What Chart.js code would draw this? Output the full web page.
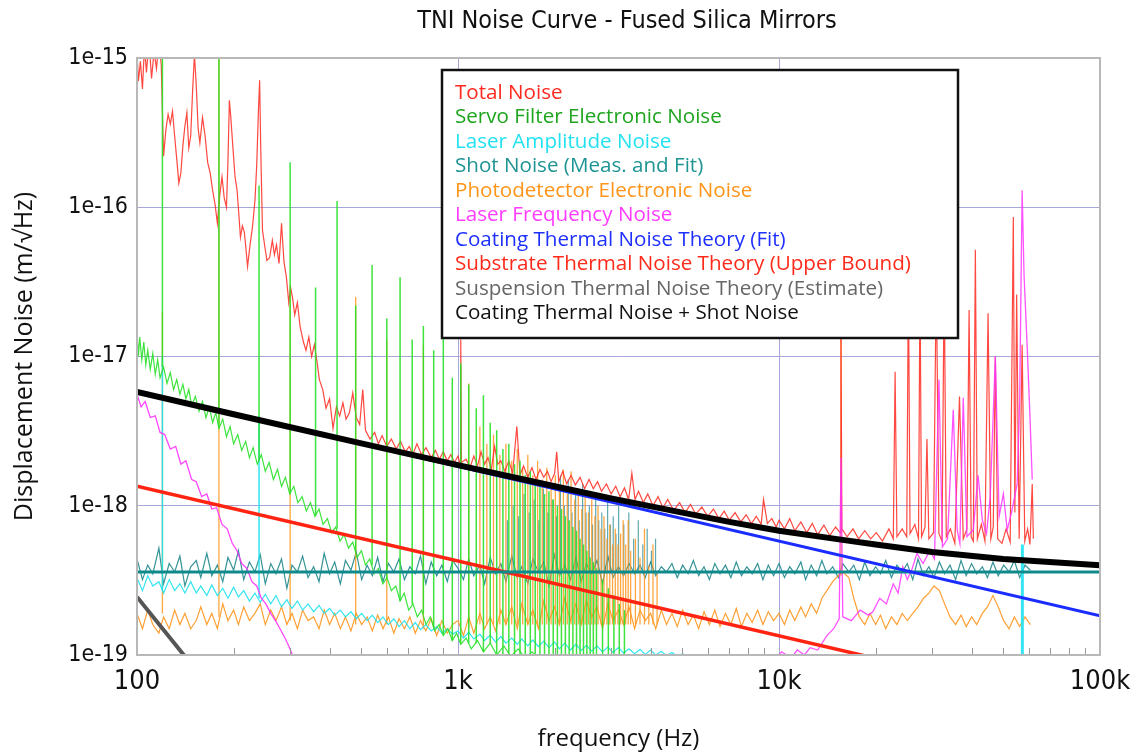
<!DOCTYPE html>
<html>
<head>
<meta charset="utf-8">
<script src="https://cdn.jsdelivr.net/npm/chart.js@4.4.1/dist/chart.umd.min.js"></script>
<style>
  html, body { margin: 0; padding: 0; background: #fff; }
  #wrap { width: 1132px; height: 754px; position: relative; }
</style>
</head>
<body>
<div id="wrap"><canvas id="chart"></canvas></div>
<script>
// axis ticks
const xTickValues = [100,200,300,400,500,600,700,800,900,1000,2000,3000,4000,5000,6000,7000,8000,9000,
  10000,20000,30000,40000,50000,60000,70000,80000,90000,100000]
const xMajorValues = [100, 1000, 10000, 100000]
const xMajorLabels = ['100', '1k', '10k', '100k']
const yTickValues = [1e-19, 1e-18, 1e-17, 1e-16, 1e-15]
const yTickLabels = ['1e-19', '1e-18', '1e-17', '1e-16', '1e-15']

// legend entries, top to bottom
const legendLabels = ['Total Noise', 'Servo Filter Electronic Noise', 'Laser Amplitude Noise',
  'Shot Noise (Meas. and Fit)', 'Photodetector Electronic Noise', 'Laser Frequency Noise',
  'Coating Thermal Noise Theory (Fit)', 'Substrate Thermal Noise Theory (Upper Bound)',
  'Suspension Thermal Noise Theory (Estimate)', 'Coating Thermal Noise + Shot Noise']
const legendColors = ['#ff2a1f', '#1ea51e', '#22e2f2', '#1e9494', '#ff9418', '#ff3cff',
  '#1e30ff', '#ff2a1a', '#666666', '#111111']

// theory curves [Hz, m/rtHz]
const coatingPlusShot = [[100,5.8e-18],[200,4.1e-18],[500,2.62e-18],[1000,1.87e-18],[2000,1.35e-18],
  [3000,1.12e-18],[5000,0.9e-18],[7000,0.78e-18],[10000,0.68e-18],[15000,0.6e-18],[20000,0.55e-18],
  [30000,0.49e-18],[50000,0.44e-18],[100000,0.4e-18]]
const coatingFit = [[100,5.8e-18],[100000,1.83e-19]]
const substrate = [[100,1.35e-18],[20000,0.95e-19]]
const suspension = [[100,2.45e-19],[150,0.83e-19]]
const shotFit = [[100,3.6e-19],[100000,3.6e-19]]

// measured total noise [Hz, m/rtHz]
const totalNoise = [[100,1.1e-15],[101,7.0e-16],[102.5,9.5e-16],[104,6.2e-16],[105.5,1.2e-15],[107,8.0e-16],
  [109,1.3e-15],[111,7.3e-16],[113,1.1e-15],[115,8.5e-16],[117,1.3e-15],[119,9.0e-16],[121,2.2e-16],
  [123,3.3e-16],[125,4.2e-16],[127,3.6e-16],[129,4.4e-16],[131,3.0e-16],[133,2.1e-16],[135,1.45e-16],
  [137,1.7e-16],[139,2.6e-16],[141,3.5e-16],[143,4.3e-16],[145,2.5e-16],[147,3.0e-16],[149,6.0e-16],
  [151,1.05e-15],[153,6.5e-16],[155,3.4e-16],[157,2.7e-16],[160,4.0e-16],[163,3.0e-16],[166,2.0e-16],
  [169,1.7e-16],[172,1.3e-16],[175,1.05e-16],[178,7.8e-17],[181,1.2e-16],[184,1.6e-16],[187,1.15e-16],
  [190,1.0e-16],[192,2.0e-16],[194,5.2e-16],[196,4.0e-16],[199,2.5e-16],[202,1.6e-16],[205,1.3e-16],
  [208,8.5e-17],[210,6.3e-17],[213,7.5e-17],[216,6.8e-17],[219,5.0e-17],[221,4.0e-17],[225,5.6e-17],
  [229,7.4e-17],[233,1.1e-16],[236,1.9e-16],[239,4.5e-16],[241,7.1e-16],[243,2.4e-16],[246,7.0e-17],
  [250,5.5e-17],[254,4.4e-17],[259,4.6e-17],[264,6.0e-17],[268,4.8e-17],[272,5.6e-17],[277,4.2e-17],
  [282,7.8e-17],[287,4.3e-17],[292,3.4e-17],[297,2.3e-17],[301,2.9e-17],[305,2.5e-17],[310,1.9e-17],
  [316,2.3e-17],[322,1.6e-17],[330,1.25e-17],[336,1.1e-17],[343,1.35e-17],[350,1.0e-17],[357,1.2e-17],
  [363,9.5e-18],[370,7.0e-18],[379,6.0e-18],[388,4.5e-18],[398,5.2e-18],[408,3.3e-18],[418,4.6e-18],
  [428,4.0e-18],[438,4.9e-18],[448,3.8e-18],[459,4.2e-18],[470,5.7e-18],[482,3.9e-18],[494,3.5e-18],
  [505,6.0e-18],[515,3.2e-18],[532,2.8e-18],[550,3.1e-18],[565,2.6e-18],[580,2.95e-18],[600,2.5e-18],
  [620,2.8e-18],[642,2.4e-18],[662,2.7e-18],[685,2.3e-18],[705,2.5e-18],[723,2.2e-18],[745,2.6e-18],
  [770,2.2e-18],[795,2.45e-18],[826,2.1e-18],[850,2.35e-18],[875,2.05e-18],[900,2.3e-18],[925,2.0e-18],
  [950,2.2e-18],[975,1.95e-18],[1000,2.15e-18],[1015,1.9e-18],[1020,1.3e-17],[1025,1.95e-18],
  [1060,2.05e-18],[1090,1.8e-18],[1120,2.15e-18],[1150,1.85e-18],[1180,2.3e-18],[1210,1.9e-18],
  [1240,2.1e-18],[1270,1.75e-18],[1300,2.5e-18],[1330,1.9e-18],[1360,2.0e-18],[1400,1.7e-18],
  [1440,2.0e-18],[1480,1.65e-18],[1525,3.4e-18],[1560,1.6e-18],[1600,1.85e-18],[1650,1.55e-18],
  [1700,1.8e-18],[1750,1.5e-18],[1800,1.75e-18],[1850,1.55e-18],[1900,1.7e-18],[1950,1.45e-18],
  [2000,1.65e-18],[2030,2.3e-18],[2060,1.45e-18],[2120,1.7e-18],[2180,1.4e-18],[2250,1.6e-18],
  [2320,1.38e-18],[2400,1.55e-18],[2480,1.3e-18],[2560,1.5e-18],[2640,1.3e-18],[2720,1.45e-18],
  [2800,1.25e-18],[2900,1.4e-18],[3000,1.2e-18],[3100,1.35e-18],[3200,1.15e-18],[3300,1.32e-18],
  [3400,1.1e-18],[3480,1.65e-18],[3560,1.1e-18],[3650,1.25e-18],[3780,1.05e-18],[3900,1.2e-18],
  [4050,1.0e-18],[4200,1.15e-18],[4350,0.97e-18],[4500,1.1e-18],[4700,0.93e-18],[4900,1.05e-18],
  [5100,0.9e-18],[5300,1.02e-18],[5500,0.88e-18],[5750,0.98e-18],[6000,0.85e-18],[6250,0.95e-18],
  [6500,0.82e-18],[6750,0.92e-18],[7000,0.8e-18],[7300,0.9e-18],[7600,0.78e-18],[7900,0.87e-18],
  [8200,0.76e-18],[8500,0.85e-18],[8800,0.75e-18],[8950,1.1e-18],[9200,0.76e-18],[9500,0.82e-18],
  [9800,0.72e-18],[10000,0.8e-18],[10400,0.7e-18],[10800,0.82e-18],[11200,0.68e-18],[11700,0.78e-18],
  [12200,0.66e-18],[12700,0.76e-18],[13200,0.64e-18],[13800,0.74e-18],[14400,0.63e-18],[15000,0.72e-18],
  [15500,0.66e-18],[15600,1.5e-17],[15700,0.7e-18],[16300,0.62e-18],[17000,0.7e-18],[17700,0.6e-18],
  [18500,0.68e-18],[19300,0.6e-18],[20100,0.66e-18],[21000,0.58e-18],[22000,0.7e-18],[22700,0.6e-18],
  [23000,7.9e-18],[23300,0.62e-18],[24200,0.7e-18],[25000,0.62e-18],[25300,3.5e-17],[25600,0.65e-18],
  [26500,0.75e-18],[27200,0.6e-18],[27500,3.5e-17],[27800,0.62e-18],[28500,0.72e-18],[28900,2.8e-18],
  [29300,0.6e-18],[30300,0.66e-18],[30900,3.5e-17],[31500,0.65e-18],[32200,0.58e-18],[32700,3.5e-17],
  [33200,0.62e-18],[34200,0.7e-18],[35300,0.56e-18],[36500,5.4e-18],[37500,0.6e-18],[38500,0.7e-18],
  [39100,2.05e-17],[39700,0.62e-18],[40300,0.58e-18],[40900,5.2e-17],[41500,0.6e-18],[42700,0.75e-18],
  [43800,0.58e-18],[44800,1.95e-17],[45700,0.6e-18],[46500,0.72e-18],[47200,1.0e-17],[48000,0.6e-18],
  [49500,0.56e-18],[51000,0.7e-18],[52500,0.57e-18],[53700,8.6e-17],[54300,0.9e-18],[55000,2.6e-17],
  [56000,0.6e-18],[57200,1.2e-17],[58300,0.58e-18],[59500,0.7e-18],[60500,0.55e-18],[61500,1.4e-18],
  [62000,0.6e-18]]

// servo filter electronic noise floor [Hz, m/rtHz]
const servoNoise = [[100,1.5e-17],[101,1.0e-17],[102,1.35e-17],[103.5,9.5e-18],[105,1.25e-17],[106.5,8.8e-18],
  [108,1.1e-17],[110,8.2e-18],[112,1.05e-17],[114,7.6e-18],[116,9.5e-18],[118,7.2e-18],[121,8.5e-18],
  [124,6.6e-18],[127,7.8e-18],[130,6.0e-18],[133,7.0e-18],[136,5.6e-18],[139,6.5e-18],[142,5.2e-18],
  [145,6.0e-18],[148,4.7e-18],[152,5.4e-18],[156,4.3e-18],[160,5.0e-18],[164,3.9e-18],[168,4.6e-18],
  [172,3.6e-18],[176,4.2e-18],[180,3.3e-18],[185,3.8e-18],[190,2.9e-18],[195,3.4e-18],[200,2.6e-18],
  [206,3.0e-18],[212,2.35e-18],[218,2.7e-18],[224,2.1e-18],[230,2.45e-18],[237,1.9e-18],[244,2.2e-18],
  [251,1.7e-18],[258,1.95e-18],[266,1.5e-18],[274,1.75e-18],[282,1.35e-18],[290,1.55e-18],[299,1.2e-18],
  [308,1.35e-18],[317,1.05e-18],[327,1.15e-18],[337,0.92e-18],[347,1.05e-18],[358,0.85e-18],
  [369,0.95e-18],[380,0.75e-18],[392,0.82e-18],[404,0.66e-18],[416,0.72e-18],[429,0.58e-18],
  [442,0.64e-18],[456,0.52e-18],[470,0.57e-18],[485,0.45e-18],[500,0.5e-18],[515,0.4e-18],[531,0.44e-18],
  [548,0.35e-18],[565,0.38e-18],[583,0.3e-18],[601,0.33e-18],[620,0.27e-18],[640,0.29e-18],[660,0.23e-18],
  [680,0.26e-18],[702,0.2e-18],[724,0.22e-18],[747,0.18e-18],[770,0.2e-18],[795,0.16e-18],[820,0.18e-18],
  [846,0.145e-18],[873,0.16e-18],[900,0.135e-18],[930,0.15e-18],[960,0.125e-18],[990,0.14e-18],
  [1020,0.118e-18],[1060,0.13e-18],[1100,0.11e-18],[1150,0.125e-18],[1200,0.105e-18],[1260,0.12e-18],
  [1320,0.1e-18],[1390,0.115e-18],[1460,0.098e-18],[1540,0.11e-18],[1620,0.095e-18],[1700,0.105e-18],
  [1800,0.092e-18],[1900,0.1e-18],[2000,0.09e-18],[2500,0.085e-18]]

// line harmonics [Hz, base, peak]
const servoSpikes = [[120,8.5e-18,2e-15],[180,3.3e-18,2e-15],[240,2.0e-18,1.4e-16],[300,1.2e-18,2.0e-16],
  [360,0.85e-18,2.9e-17],[420,0.7e-18,1.1e-16],[480,0.5e-18,2.2e-17],[540,0.4e-18,4.1e-17],
  [600,0.33e-18,1.8e-17],[660,0.23e-18,3.4e-17],[720,0.22e-18,1.3e-17],[780,0.19e-18,1.6e-17],
  [840,0.15e-18,1.1e-17],[900,0.135e-18,1.4e-17],[960,0.125e-18,7.2e-18],[1020,0.12e-18,9e-18],
  [1080,0.12e-18,6.5e-18],[1140,0.12e-18,4.5e-18],[1200,0.105e-18,5.5e-18],[1260,0.12e-18,3.6e-18],
  [1320,0.1e-18,3.2e-18],[1380,0.1e-18,2.4e-18],[1440,0.1e-18,2.6e-18],[1500,0.1e-18,1.9e-18],
  [1560,0.09e-18,2.0e-18],[1620,0.09e-18,1.6e-18],[1680,0.09e-18,1.7e-18],[1740,0.09e-18,1.4e-18],
  [1800,0.09e-18,1.45e-18],[1860,0.09e-18,1.2e-18],[1920,0.09e-18,1.25e-18],[1980,0.09e-18,1.1e-18],
  [2040,0.09e-18,1.0e-18],[2100,0.09e-18,0.95e-18],[2160,0.09e-18,0.85e-18],[2220,0.09e-18,0.8e-18],
  [2280,0.09e-18,0.72e-18],[2340,0.09e-18,0.68e-18],[2400,0.09e-18,0.6e-18],[2460,0.09e-18,0.55e-18],
  [2520,0.09e-18,0.5e-18],[2580,0.09e-18,0.45e-18],[2640,0.09e-18,0.42e-18],[2700,0.09e-18,0.38e-18],
  [2820,0.09e-18,0.32e-18],[2940,0.09e-18,0.28e-18],[3060,0.09e-18,0.25e-18],[3180,0.09e-18,0.22e-18],
  [3300,0.09e-18,0.2e-18]]

// frequency grid for the low-level traces [Hz]
const gridLow = [100,104,108,112,117,121,126,131,136,141,147,153,158,165,171,178,185,192,200,207,
  215,224,233,242,251,261,271,282,293,304,316,328,341,355,369,383,398,413,430,446,
  464,482,501,521,541,562,584,607,631,655,681,708,736,764,794,825,858,891,926,962]
const gridMid = [1000,1040,1080,1120,1170,1210,1260,1310,1360,1410,1470,1530,1580,1650,1710,1780,1850,1920,2000,2070,
  2150,2240,2330,2420,2510,2610,2710,2820,2930,3040,3160,3280,3410,3550,3690,3830,3980,4130,4300,4460,
  4640,4820,5010,5210,5410,5620,5840,6070,6310,6550,6810,7080,7360,7640,7940,8250,8580,8910,9260,9620]
const gridHigh = [10000,10400,10800,11200,11700,12100,12600,13100,13600,14100,14700,15300,15800,16500,17100,17800,
  18500,19200,20000,20700,21500,22400,23300,24200,25100,26100,27100,28200,29300,30400,31600,32800,
  34100,35500,36900,38300,39800,41300,43000,44600,46400,48200,50100,52100,54100,56200,58400,60700]
const gridFreq = [...gridLow, ...gridMid, ...gridHigh]

// values on gridFreq, in units of 1e-19 m/rtHz
const shotMeas = [4.4,3.2,4.0,3.5,5.2,3.0,4.1,3.6,4.6,2.9, 3.9,4.3,3.3,4.8,3.4,4.0,3.1,4.5,3.7,5.0,
  3.2,4.2,3.6,4.7,3.0,4.1,3.5,4.4,2.8,4.0, 3.6,4.6,3.3,3.9,3.1,4.8,3.5,4.2,3.0,4.3,
  3.7,4.9,3.2,4.0,3.4,4.5,3.1,4.1,3.6,4.4, 3.2,3.9,3.5,4.6,3.0,4.2,3.4,4.0,3.1,4.3,
  3.8,3.2,4.4,3.4,4.0,3.0,4.5,3.5,4.1,3.1, 4.6,3.3,3.9,3.0,4.4,3.6,4.2,2.9,4.7,3.4,
  4.0,3.2,4.5,3.1,4.1,3.5,4.3,3.0,4.6,3.3, 3.9,3.4,4.1,3.5,4.0,3.3,4.2,3.4,3.9,3.6,
  4.1,3.3,4.0,3.5,4.3,3.4,3.9,3.2,4.1,3.5, 4.0,3.3,4.2,3.4,3.9,3.5,4.1,3.2,4.0,3.4,
  4.1,3.3,3.9,3.5,4.2,3.2,4.0,3.4,4.3,3.5, 3.9,3.3,4.1,3.6,4.0,3.2,4.2,3.4,3.9,3.5,
  4.3,3.3,4.0,3.6,4.1,3.2,4.4,3.4,3.9,3.3, 4.2,3.5,4.0,3.2,4.3,3.4,4.1,3.5,3.9,3.3,
  4.2,3.4,4.0,3.6,4.3,3.3,4.0,3.7]
const pdNoise = [1.9,1.5,2.0,1.6,1.4,1.8,1.5,2.0,1.6,1.9, 1.5,1.7,2.1,1.6,1.9,1.5,2.2,1.7,2.0,1.6,
  2.1,1.7,1.9,2.2,1.6,2.0,1.7,2.1,1.6,1.9, 1.5,2.0,1.7,1.8,1.5,2.0,1.6,1.9,1.5,1.8,
  1.45,1.9,1.6,1.8,1.45,1.85,1.5,1.8,1.4,1.75, 1.5,1.8,1.4,1.7,1.45,1.75,1.35,1.7,1.4,1.6,
  1.7,1.35,1.8,1.4,1.9,1.5,1.8,1.45,2.0,1.6, 2.1,1.5,2.2,1.6,2.0,1.5,2.3,1.7,2.1,1.6,
  2.4,1.7,2.2,1.6,2.3,1.8,2.1,1.5,2.2,1.7, 2.0,1.6,2.1,1.5,2.0,1.7,1.9,1.5,2.0,1.6,
  1.9,1.55,2.0,1.6,1.85,1.5,1.95,1.6,2.0,1.55, 1.9,1.6,2.05,1.55,1.9,1.65,2.0,1.6,1.95,1.7,
  1.9,1.6,2.0,1.7,2.1,1.8,2.2,1.9,2.4,2.7, 3.1,3.4,3.6,3.3,2.4,1.8,1.6,1.9,1.6,1.85,
  1.5,1.8,1.6,1.9,1.7,1.9,2.1,2.4,2.6,2.9, 2.7,2.2,1.8,1.6,1.85,1.55,1.8,1.6,1.9,2.1,
  2.5,2.1,1.7,1.5,1.8,1.55,1.8,1.6]
const ampNoise = [3.3,2.7,3.4,2.9,3.1,2.6,3.2,2.7,3.0,2.6, 3.1,2.6,2.9,2.5,2.95,2.5,2.8,2.4,2.85,2.45,
  2.7,2.3,2.6,2.25,2.55,2.2,2.5,2.1,2.35,2.05, 2.3,2.0,2.2,1.95,2.15,1.9,2.05,1.85,2.0,1.8,
  1.95,1.75,1.9,1.7,1.85,1.65,1.8,1.6,1.75,1.55, 1.7,1.5,1.65,1.48,1.6,1.45,1.55,1.4,1.5,1.38,
  1.45,1.3,1.42,1.28,1.38,1.25,1.36,1.22,1.33,1.2, 1.3,1.18,1.28,1.15,1.26,1.14,1.24,1.12,1.22,1.1,
  1.2,1.08,1.18,1.07,1.16,1.06,1.15,1.05,1.13,1.04, 1.12,1.03,1.1,1.02,1.09,1.01,1.08,1.0,1.06,0.99,
  1.04,0.98,1.02,0.97,1.0,0.96,0.95]

// harmonics of the low-level traces [Hz, base, peak]
const pdSpikes = [[120,1.9e-19,2.0e-17],[180,1.8e-19,1.2e-15],[300,1.7e-19,3.0e-17],[480,1.6e-19,2.5e-17],
  [600,1.6e-19,1.3e-17],[780,1.5e-19,1.2e-17],[1080,1.5e-19,6.6e-18],[1170,1.6e-19,3.4e-18],
  [1230,1.6e-19,2.6e-18],[1290,1.6e-19,3.0e-18],[1350,1.6e-19,2.2e-18],[1410,1.6e-19,2.6e-18],
  [1470,1.6e-19,2.0e-18],[1530,1.6e-19,2.4e-18],[1590,1.6e-19,1.8e-18],[1650,1.6e-19,2.2e-18],
  [1710,1.6e-19,1.6e-18],[1770,1.6e-19,2.0e-18],[1830,1.6e-19,1.5e-18],[1890,1.6e-19,1.8e-18],
  [1950,1.6e-19,1.4e-18],[2010,1.6e-19,1.6e-18],[2070,1.6e-19,1.3e-18],[2130,1.6e-19,1.75e-18],
  [2190,1.6e-19,1.2e-18],[2250,1.6e-19,1.7e-18],[2310,1.6e-19,1.1e-18],[2370,1.6e-19,1.3e-18],
  [2430,1.6e-19,0.95e-18],[2490,1.6e-19,1.25e-18],[2550,1.6e-19,0.9e-18],[2610,1.6e-19,1.1e-18],
  [2670,1.6e-19,0.85e-18],[2730,1.6e-19,1.0e-18],[2790,1.6e-19,0.7e-18],[2850,1.6e-19,0.85e-18],
  [2910,1.6e-19,0.6e-18],[2970,1.6e-19,0.75e-18],[3030,1.6e-19,0.55e-18],[3090,1.6e-19,0.7e-18],
  [3150,1.6e-19,0.55e-18],[3210,1.6e-19,0.65e-18],[3270,1.6e-19,0.8e-18],[3330,1.6e-19,0.55e-18],
  [3390,1.6e-19,0.8e-18],[3450,1.6e-19,0.5e-18],[3570,1.6e-19,0.6e-18],[3690,1.6e-19,0.45e-18],
  [3810,1.6e-19,0.7e-18],[3930,1.6e-19,0.4e-18],[4050,1.6e-19,0.55e-18],[4170,1.6e-19,0.35e-18],
  [15600,3.4e-19,2.0e-17]]
const shotSpikes = [[1425,3.6e-19,0.8e-18],[1485,3.6e-19,1.0e-18],[1545,3.6e-19,0.85e-18],[1605,3.6e-19,1.2e-18],
  [1665,3.6e-19,0.9e-18],[1725,3.6e-19,1.1e-18],[1785,3.6e-19,0.8e-18],[1845,3.6e-19,1.3e-18],
  [1905,3.6e-19,0.9e-18],[1965,3.6e-19,1.1e-18],[2025,3.6e-19,0.85e-18],[2085,3.6e-19,1.6e-18],
  [2145,3.6e-19,1.0e-18],[2205,3.6e-19,1.5e-18],[2265,3.6e-19,0.9e-18],[2325,3.6e-19,1.2e-18],
  [2385,3.6e-19,0.8e-18],[2445,3.6e-19,1.4e-18],[2505,3.6e-19,0.9e-18],[2565,3.6e-19,1.0e-18],
  [2625,3.6e-19,0.75e-18],[2685,3.6e-19,1.1e-18],[2745,3.6e-19,0.8e-18],[2805,3.6e-19,0.9e-18],
  [2865,3.6e-19,0.7e-18],[2925,3.6e-19,1.1e-18],[2985,3.6e-19,0.75e-18],[3045,3.6e-19,0.85e-18],
  [3105,3.6e-19,0.65e-18],[3165,3.6e-19,1.0e-18],[3285,3.6e-19,0.75e-18],[3405,3.6e-19,0.9e-18],
  [3525,3.6e-19,0.6e-18],[3645,3.6e-19,0.8e-18],[3765,3.6e-19,0.55e-18],[3885,3.6e-19,0.7e-18],
  [4005,3.6e-19,0.5e-18],[4125,3.6e-19,0.6e-18]]
const ampSpikes = [[120,2.7e-19,1.0e-17],[240,2.4e-19,4.0e-18],[57000,0.9e-19,5.5e-19],[57600,0.9e-19,5.5e-19]]

// laser frequency noise [Hz, m/rtHz]
const freqNoiseLow = [[100,5.6e-18],[103,4.6e-18],[106,5.0e-18],[110,3.9e-18],[114,4.0e-18],[118,3.1e-18],
  [122,3.0e-18],[127,2.4e-18],[132,2.5e-18],[137,1.9e-18],[142,2.0e-18],[148,1.5e-18],[153,1.45e-18],
  [159,1.15e-18],[165,1.2e-18],[171,0.95e-18],[177,0.97e-18],[184,0.75e-18],[191,0.7e-18],[198,0.56e-18],
  [205,0.5e-18],[212,0.41e-18],[220,0.38e-18],[228,0.31e-18],[236,0.29e-18],[244,0.24e-18],[252,0.22e-18],
  [261,0.19e-18],[270,0.17e-18],[279,0.15e-18],[289,0.13e-18],[297,0.115e-18],[305,0.1e-18],[312,0.09e-18]]
const freqNoiseHigh = [[9500,0.9e-19],[10200,1.05e-19],[10900,0.95e-19],[11400,1.08e-19],[12000,1.0e-19],
  [12500,1.12e-19],[13200,1.08e-19],[14100,1.35e-19],[14800,1.5e-19],[15400,1.75e-19],[15600,2.1e-18],
  [15800,1.8e-19],[16800,1.7e-19],[17900,2.0e-19],[19000,1.85e-19],[19600,1.95e-19],[20600,2.4e-19],
  [21600,2.2e-19],[22700,3.0e-19],[23500,2.6e-19],[24300,3.9e-19],[25100,3.2e-19],[26000,3.8e-19],
  [26900,4.8e-19],[28100,4.1e-19],[29500,5.0e-19],[30500,4.4e-19],[31500,7.0e-18],[32300,5.3e-19],
  [33500,6.0e-19],[34900,4.4e-18],[35900,6.9e-19],[36600,5.6e-19],[37500,5.3e-18],[38500,6.2e-19],
  [40300,6.9e-19],[41700,1.6e-18],[43000,8.0e-19],[44300,6.5e-19],[45500,1.15e-18],[47200,1.0e-17],
  [48500,8.5e-19],[50000,1.2e-18],[51400,6.9e-19],[53000,9.0e-19],[55200,1.4e-18],[56200,5e-18],
  [57200,1.3e-16],[58000,3.5e-17],[59300,1.17e-17],[60500,4.0e-18],[61500,1.5e-18]]

const pts = pairs => pairs.map(([x, y]) => ({x, y}))
const onGrid = (vals, unit) => vals.map((v, i) => ({x: gridFreq[i], y: v * unit}))
const spikes = list => list.flatMap(([f, lo, hi]) => [{x: f, y: lo}, {x: f, y: hi}, {x: f, y: null}])

const line = (label, data, color, width) => ({
  label, data, borderColor: color, borderWidth: width, pointRadius: 0, spanGaps: false, tension: 0
})

// first dataset is drawn on top
const datasets = [
  line(legendLabels[9], pts(coatingPlusShot), '#000000', 6),
  line(legendLabels[6], pts(coatingFit), '#1a2cff', 3),
  line(legendLabels[3], pts(shotFit), '#0f8a8c', 3),
  line(legendLabels[7], pts(substrate), '#ff2412', 3.5),
  line(legendLabels[8], pts(suspension), '#555555', 4),
  line(legendLabels[5], pts(freqNoiseLow), 'rgba(255,50,255,0.9)', 1.3),
  line(legendLabels[5], pts(freqNoiseHigh), 'rgba(255,50,255,0.85)', 1.3),
  line(legendLabels[1], spikes(servoSpikes), 'rgba(40,225,40,0.9)', 1.5),
  line(legendLabels[1], pts(servoNoise), 'rgba(40,225,40,0.9)', 1.2),
  line(legendLabels[0], pts(totalNoise), 'rgba(255,40,30,0.85)', 1.2),
  line(legendLabels[2], spikes(ampSpikes), 'rgba(30,225,240,0.9)', 1.5),
  line(legendLabels[2], onGrid(ampNoise, 1e-19), 'rgba(30,225,240,0.9)', 1.2),
  line(legendLabels[4], spikes(pdSpikes), 'rgba(255,150,30,0.85)', 1.3),
  line(legendLabels[4], onGrid(pdNoise, 1e-19), 'rgba(255,150,30,0.9)', 1.2),
  line(legendLabels[3], spikes(shotSpikes), 'rgba(40,140,150,0.75)', 1.2),
  line(legendLabels[3], onGrid(shotMeas, 1e-19), 'rgba(30,135,140,0.9)', 1.2)
]

const narrow = "'Liberation Sans Narrow', 'DejaVu Sans Condensed', sans-serif"
const isMajor = v => xMajorValues.some(m => Math.abs(m - v) < 1e-6 * m)

const framePlugin = {
  id: 'frame',
  afterDatasetsDraw(chart) {
    const {ctx, chartArea: a, scales: {x}} = chart
    ctx.save()
    // minor ticks along the bottom edge
    ctx.strokeStyle = '#999'
    ctx.lineWidth = 1
    xTickValues.filter(v => !isMajor(v)).forEach(v => {
      const px = Math.round(x.getPixelForValue(v)) + 0.5
      ctx.beginPath(); ctx.moveTo(px, a.bottom); ctx.lineTo(px, a.bottom - 7); ctx.stroke()
    })
    ctx.strokeStyle = '#b8b8b8'
    ctx.lineWidth = 2
    ctx.strokeRect(a.left, a.top, a.right - a.left, a.bottom - a.top)

    // legend box
    ctx.fillStyle = '#fff'
    ctx.fillRect(442, 70, 516, 268)
    ctx.strokeStyle = '#111'
    ctx.lineWidth = 2.5
    ctx.strokeRect(442, 70, 516, 268)
    ctx.font = "20.6px 'Open Sans', sans-serif"
    ctx.textBaseline = 'middle'
    legendLabels.forEach((t, i) => {
      ctx.fillStyle = legendColors[i]
      ctx.fillText(t, 455, 93 + i * 24.5)
    })

    // title
    ctx.fillStyle = '#111'
    ctx.font = '25px ' + narrow
    ctx.textAlign = 'center'
    ctx.fillText('TNI Noise Curve - Fused Silica Mirrors', 627, 21)
    ctx.restore()
  }
}

new Chart(document.getElementById('chart'), {
  type: 'line',
  data: {datasets},
  options: {
    responsive: true,
    maintainAspectRatio: false,
    animation: false,
    normalized: true,
    layout: {padding: {top: 58, right: 32, left: 0, bottom: 0}},
    plugins: {legend: {display: false}, tooltip: {enabled: false}},
    scales: {
      x: {
        type: 'logarithmic', min: 100, max: 100000,
        afterBuildTicks: s => { s.ticks = xTickValues.map(v => ({value: v})) },
        afterFit: s => { s.height = 99; s.paddingLeft = 0; s.paddingRight = 0 },
        border: {display: false},
        grid: {drawTicks: false, color: c => isMajor(c.tick.value) ? '#a6a6d8' : 'rgba(0,0,0,0)'},
        ticks: {
          autoSkip: false, maxRotation: 0, padding: 11, color: '#111',
          font: {family: narrow, size: 27},
          callback: v => { const i = xMajorValues.findIndex(m => Math.abs(m - v) < 1e-6 * m); return i >= 0 ? xMajorLabels[i] : '' }
        },
        title: {display: true, text: 'frequency (Hz)', color: '#111', padding: {top: 0, bottom: 0},
          font: {family: "'Open Sans', sans-serif", size: 24}}
      },
      y: {
        type: 'logarithmic', min: 1e-19, max: 1e-15,
        afterBuildTicks: s => { s.ticks = yTickValues.map(v => ({value: v})) },
        afterFit: s => { s.width = 137; s.paddingTop = 0; s.paddingBottom = 0 },
        border: {display: false},
        grid: {drawTicks: false, color: '#a6a6d8'},
        ticks: {
          padding: 9, color: '#111', font: {family: narrow, size: 23},
          callback: v => { const i = yTickValues.findIndex(t => Math.abs(Math.log10(t) - Math.log10(v)) < 1e-6); return i >= 0 ? yTickLabels[i] : '' }
        },
        title: {display: true, text: 'Displacement Noise (m/√Hz)', color: '#111', padding: {top: 10, bottom: 0},
          font: {family: "'Open Sans', sans-serif", size: 25}}
      }
    }
  },
  plugins: [framePlugin]
})
</script>
</body>
</html>
